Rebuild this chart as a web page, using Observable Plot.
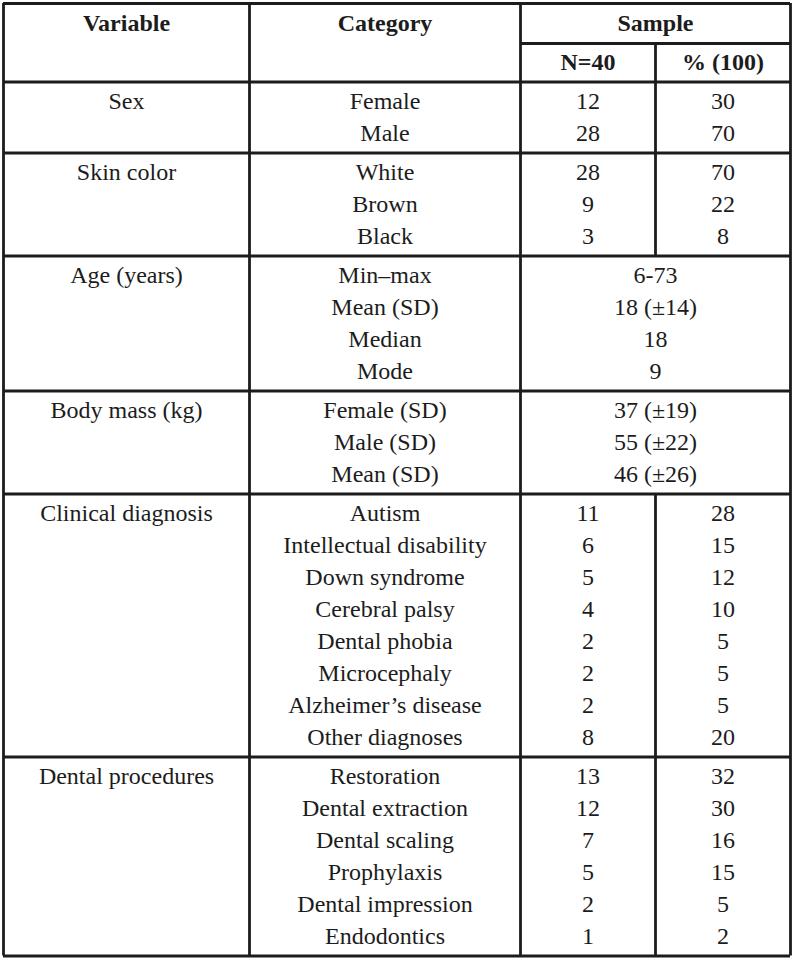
<!DOCTYPE html>
<html>
<head>
<meta charset="utf-8">
<script src="https://cdn.jsdelivr.net/npm/d3@7"></script>
<script src="https://cdn.jsdelivr.net/npm/@observablehq/plot@0.6"></script>
<style>
  html, body { margin: 0; padding: 0; background: #fff; }
  #chart svg { display: block; }
</style>
</head>
<body>
<div id="chart"></div>
<script>
// ---- Data ----
const headers = ["Variable", "Category", "Sample", "N=40", "% (100)"];
const variables = ["Sex", "Skin color", "Age (years)", "Body mass (kg)", "Clinical diagnosis", "Dental procedures"];
const groupMerged = [false, false, true, true, false, false];
const categories = [
  "Female", "Male",
  "White", "Brown", "Black",
  "Min–max", "Mean (SD)", "Median", "Mode",
  "Female (SD)", "Male (SD)", "Mean (SD)",
  "Autism", "Intellectual disability", "Down syndrome", "Cerebral palsy", "Dental phobia", "Microcephaly", "Alzheimer’s disease", "Other diagnoses",
  "Restoration", "Dental extraction", "Dental scaling", "Prophylaxis", "Dental impression", "Endodontics"
];
const groupOf = [0,0, 1,1,1, 2,2,2,2, 3,3,3, 4,4,4,4,4,4,4,4, 5,5,5,5,5,5];
const nValues = [12, 28, 28, 9, 3, null, null, null, null, null, null, null, 11, 6, 5, 4, 2, 2, 2, 8, 13, 12, 7, 5, 2, 1];
const pctValues = [30, 70, 70, 22, 8, null, null, null, null, null, null, null, 28, 15, 12, 10, 5, 5, 5, 20, 32, 30, 16, 15, 5, 2];
const mergedValues = [null, null, null, null, null, "6-73", "18 (±14)", "18", "9", "37 (±19)", "55 (±22)", "46 (±26)",
  null, null, null, null, null, null, null, null, null, null, null, null, null, null];

// ---- Layout (computed) ----
const W = 793, H = 960;
const xL = 3, xV = 249, xC = 520, xN = 655, xR = 790;
const yTop = 3, ySplit = 43, yHead = 81.5;
const pitch = 32, pad = 19.5;
const font = "'Liberation Serif', 'Times New Roman', serif";
const ink = "#1c1c1c";

const rows = [];
const groups = [];
let cursor = yHead;
variables.forEach((v, g) => {
  const idx = groupOf.map((gg, i) => gg === g ? i : -1).filter(i => i >= 0);
  const start = cursor;
  idx.forEach((i, k) => rows.push({i, g, y: start + pad + k * pitch}));
  const end = start + 2 * pad + (idx.length - 1) * pitch;
  groups.push({g, start, end, firstY: start + pad});
  cursor = end;
});
const yBottom = cursor;

const hLines = [
  {y: yTop, x1: xL, x2: xR},
  {y: ySplit, x1: xC, x2: xR},
  {y: yHead, x1: xL, x2: xR},
  ...groups.map(d => ({y: d.end, x1: xL, x2: xR}))
];
const vLines = [
  {x: xL, y1: yTop, y2: yBottom},
  {x: xV, y1: yTop, y2: yBottom},
  {x: xC, y1: yTop, y2: yBottom},
  {x: xR, y1: yTop, y2: yBottom},
  {x: xN, y1: ySplit, y2: yHead},
  ...groups.filter(d => !groupMerged[d.g]).map(d => ({x: xN, y1: d.start, y2: d.end}))
];

const headerCells = [
  {t: headers[0], x: (xL + xV) / 2, y: 23},
  {t: headers[1], x: (xV + xC) / 2, y: 23},
  {t: headers[2], x: (xC + xR) / 2, y: 23},
  {t: headers[3], x: (xC + xN) / 2, y: 62},
  {t: headers[4], x: (xN + xR) / 2, y: 62}
];

const varCells = groups.map(d => ({t: variables[d.g], x: (xL + xV) / 2, y: d.firstY}));
const catCells = rows.map(r => ({t: categories[r.i], x: (xV + xC) / 2, y: r.y}));
const nCells = rows.filter(r => nValues[r.i] != null).map(r => ({t: String(nValues[r.i]), x: (xC + xN) / 2, y: r.y}));
const pCells = rows.filter(r => pctValues[r.i] != null).map(r => ({t: String(pctValues[r.i]), x: (xN + xR) / 2, y: r.y}));
const mCells = rows.filter(r => mergedValues[r.i] != null).map(r => ({t: mergedValues[r.i], x: (xC + xR) / 2, y: r.y}));
const bodyCells = [...varCells, ...catCells, ...nCells, ...pCells, ...mCells];

const chart = Plot.plot({
  width: W,
  height: H,
  margin: 0,
  x: {domain: [0, W], range: [0, W], axis: null},
  y: {domain: [0, H], range: [0, H], axis: null},
  style: {background: "#fff", color: ink},
  marks: [
    Plot.ruleY(hLines, {y: "y", x1: "x1", x2: "x2", stroke: ink, strokeWidth: 2.8}),
    Plot.ruleX(vLines, {x: "x", y1: "y1", y2: "y2", stroke: ink, strokeWidth: 2.8}),
    Plot.text(headerCells, {x: "x", y: "y", text: "t", fontSize: 24, fontWeight: "bold", fontFamily: font, fill: ink}),
    Plot.text(bodyCells, {x: "x", y: "y", text: "t", fontSize: 24, fontFamily: font, fill: ink})
  ]
});
document.getElementById("chart").appendChild(chart);
</script>
</body>
</html>
